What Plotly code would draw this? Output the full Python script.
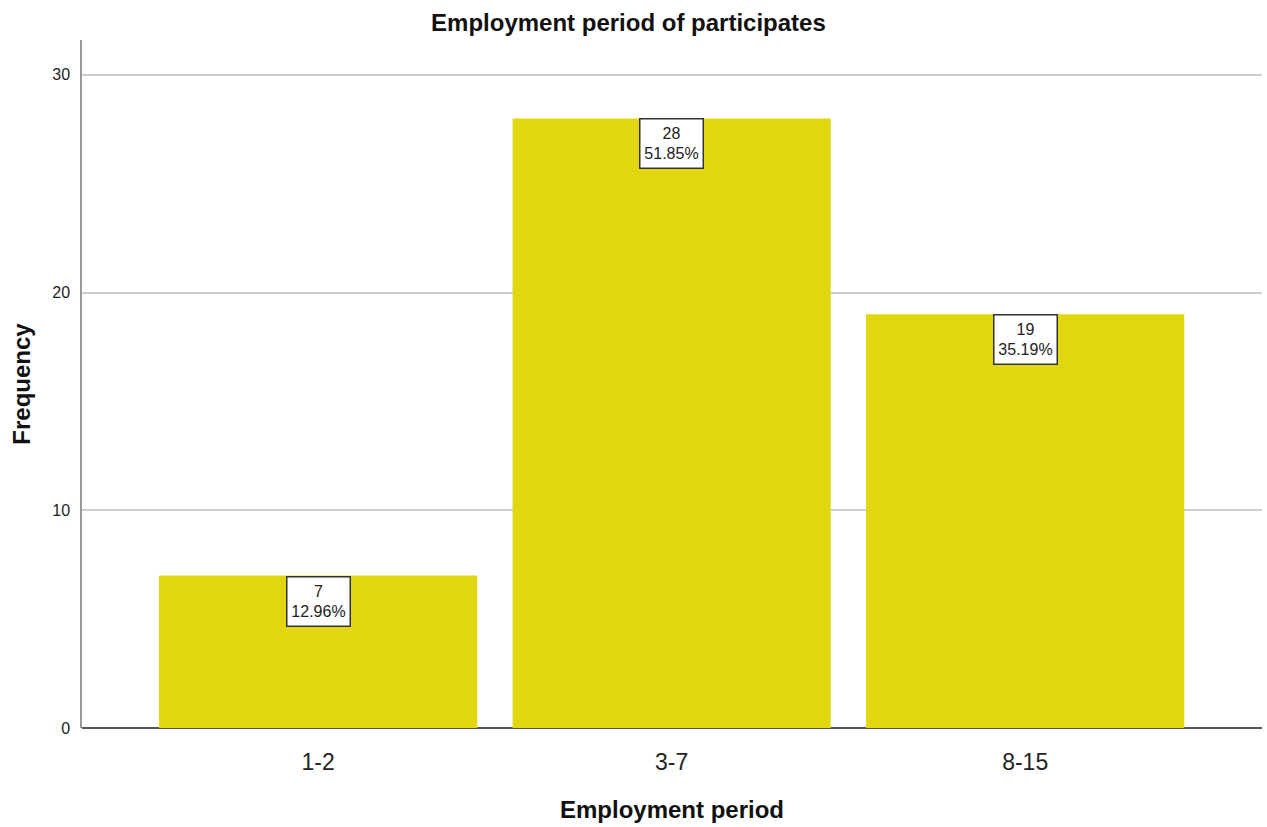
import plotly.graph_objects as go

# Employment period categories and participant counts
categories = ["1-2", "3-7", "8-15"]
counts = [7, 28, 19]
y_ticks = [0, 10, 20, 30]

total = sum(counts)
percents = [c / total * 100 for c in counts]

bar_color = "#E1D710"
font_family = "Arial, Liberation Sans, sans-serif"

fig = go.Figure()
fig.add_trace(go.Bar(
    x=categories,
    y=counts,
    width=0.9,
    marker=dict(color=bar_color, line=dict(width=0)),
    hoverinfo="skip",
))

# value / percentage labels boxed at the top of each bar
for cat, c, p in zip(categories, counts, percents):
    fig.add_annotation(
        x=cat, y=c, xref="x", yref="y",
        text=f"{c}<br>{p:.2f}%",
        showarrow=False,
        yanchor="top",
        font=dict(family=font_family, size=16, color="#222"),
        bgcolor="white",
        bordercolor="#333",
        borderwidth=1.5,
        borderpad=2,
        width=58,
        height=44,
    )

fig.update_layout(
    width=1267, height=827,
    paper_bgcolor="white", plot_bgcolor="white",
    margin=dict(l=82, r=5, t=40, b=99),
    showlegend=False,
    title=dict(
        text="<b>Employment period of participates</b>",
        x=0.496, xanchor="center", y=0.973, yanchor="middle",
        font=dict(family=font_family, size=24, color="#111"),
    ),
    xaxis=dict(
        type="category",
        range=[-0.668, 2.67],
        showgrid=False,
        showline=False,
        zeroline=False,
        ticks="",
        ticklabelstandoff=18,
        tickfont=dict(family=font_family, size=23, color="#222"),
        title=dict(text="<b>Employment period</b>", standoff=27,
                   font=dict(family=font_family, size=24, color="#111")),
    ),
    yaxis=dict(
        range=[0, 31.6],
        tickvals=y_ticks,
        showgrid=True, gridcolor="#cfcfcf", gridwidth=1.5,
        zeroline=True, zerolinecolor="#555", zerolinewidth=1.5,
        showline=True, linecolor="#999", linewidth=1.5,
        ticks="", ticklabelstandoff=7,
        tickfont=dict(family=font_family, size=16, color="#222"),
        title=dict(text="<b>Frequency</b>", standoff=15,
                   font=dict(family=font_family, size=24, color="#111")),
    ),
)

fig.write_html("out.html")
